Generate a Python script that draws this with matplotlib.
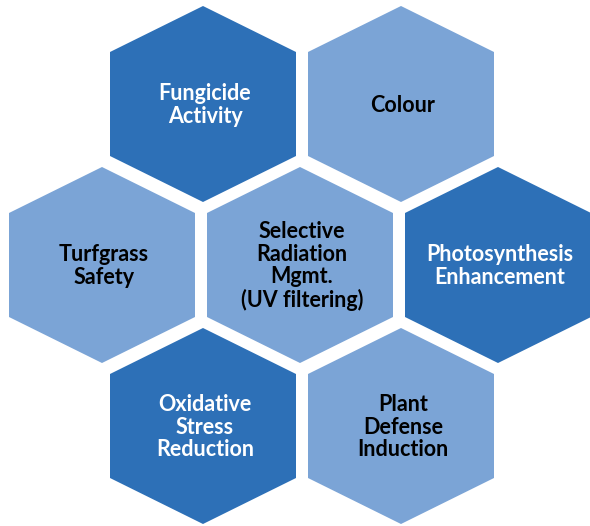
import matplotlib
matplotlib.use("Agg")
import matplotlib.pyplot as plt
from matplotlib.patches import Polygon

# labels of each cell, row by row (top to bottom)
labels = ["Fungicide\nActivity", "Colour",
          "Turfgrass\nSafety", "Selective\nRadiation\nMgmt.\n(UV filtering)", "Photosynthesis\nEnhancement",
          "Oxidative\nStress\nReduction", "Plant\nDefense\nInduction"]
shade = ["dark", "light",
         "light", "light", "dark",
         "dark", "light"]
# grid slot of each cell: (row, column offset from centre)
slots = [(0, -0.5), (0, 0.5),
         (1, -1), (1, 0), (1, 1),
         (2, -0.5), (2, 0.5)]

fill = {"dark": "#2D70B7", "light": "#7BA4D6"}
txt = {"dark": "white", "light": "black"}

W, H = 590, 526
cx0, cy0 = 300, 265
dx, dy = 198, 161
a, R, s = 93, 98, 52   # half width, vertex height, shoulder height

fig = plt.figure(figsize=(W / 100, H / 100), dpi=100)
ax = fig.add_axes([0, 0, 1, 1])
ax.set_xlim(0, W)
ax.set_ylim(H, 0)
ax.axis("off")

for lab, sh, (r, c) in zip(labels, shade, slots):
    x = cx0 + c * dx
    y = cy0 + (r - 1) * dy
    if r != 1:
        x += 2
    pts = [(x, y - R), (x + a, y - s), (x + a, y + s),
           (x, y + R), (x - a, y + s), (x - a, y - s)]
    ax.add_patch(Polygon(pts, closed=True, facecolor=fill[sh], edgecolor="none"))
    # text sits a touch right of centre in the original
    ax.text(x + 2, y + 1, lab, ha="center", va="center", color=txt[sh],
            fontsize=15.5, fontweight="bold", family="Lato", linespacing=1.1)

fig.savefig("out.png", dpi=100)
